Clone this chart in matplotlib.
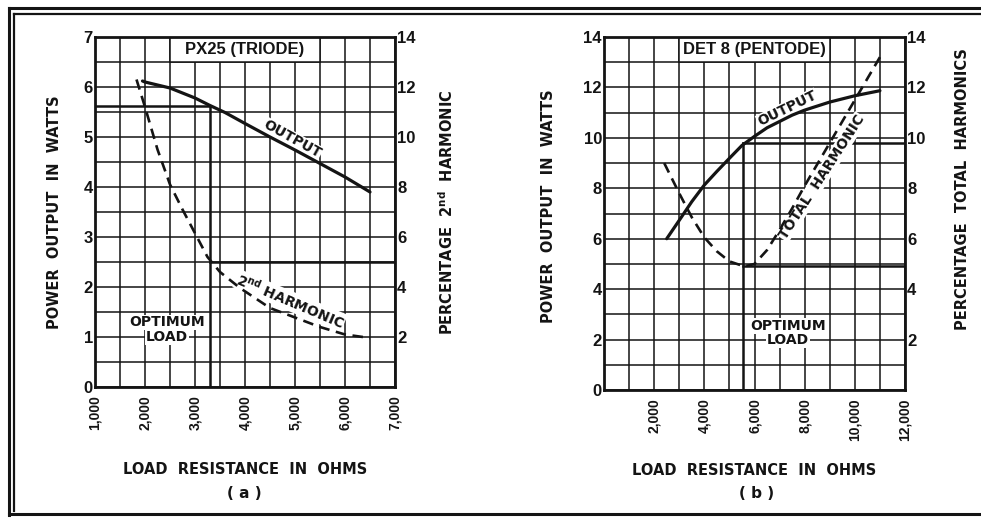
import numpy as np
import matplotlib.pyplot as plt
from matplotlib import font_manager
from matplotlib.lines import Line2D
from matplotlib.patches import Rectangle

# --- PX25 triode ---------------------------------------------------------
px25_load = [1950, 2000, 2500, 3000, 3300, 3600, 4000, 4500, 5000, 5500, 6000, 6500]
px25_output = [6.12, 6.10, 5.98, 5.78, 5.63, 5.49, 5.27, 5.0, 4.74, 4.47, 4.2, 3.9]
px25_harm_load = [1830, 2000, 2250, 2500, 2750, 3000, 3250, 3500, 3900, 4500, 5000, 5500, 6000, 6500]
px25_harm = [12.3, 11.2, 9.5, 8.1, 7.1, 6.15, 5.2, 4.6, 3.96, 3.16, 2.78, 2.4, 2.1, 1.96]
px25_opt_load = 3300
px25_opt_output = 5.62
px25_opt_harm = 5.0

# --- DET8 pentode --------------------------------------------------------
det8_load = [2500, 3000, 3500, 4000, 4500, 5000, 5500, 6000, 6500, 7000, 7500,
             8000, 9000, 10000, 11000]
det8_output = [6.0, 6.73, 7.47, 8.13, 8.67, 9.19, 9.7, 10.06, 10.4, 10.65, 10.9,
               11.1, 11.42, 11.67, 11.87]
det8_harm_load = [2400, 3000, 3500, 4000, 4500, 5000, 5600, 6000, 6500, 7000,
                  7500, 8000, 9000, 10000, 11000]
det8_harm = [9.0, 7.8, 6.85, 6.05, 5.5, 5.1, 4.9, 5.0, 5.55, 6.35, 7.2, 8.1,
             9.8, 11.5, 13.2]
det8_opt_load = 5550
det8_opt_output = 9.8
det8_opt_harm = 4.9

W, H = 981, 518
INK = '#141414'

available = {f.name for f in font_manager.fontManager.ttflist}
TITLE_FONT = 'Liberation Sans' if 'Liberation Sans' in available else 'DejaVu Sans'

plt.rcParams['font.family'] = 'DejaVu Sans'
plt.rcParams['font.weight'] = 'bold'
plt.rcParams['axes.labelweight'] = 'bold'
plt.rcParams['mathtext.fontset'] = 'dejavusans'


def px_box(x0, y_top, x1, y_bot):
    return [x0 / W, 1 - y_bot / H, (x1 - x0) / W, (y_bot - y_top) / H]


def style_axes(ax, axr, xmin, xmax, xstep, ymax, ystep):
    ax.set_xlim(xmin, xmax)
    ax.set_ylim(0, ymax)
    ax.set_xticks(np.arange(xmin, xmax + 1, xstep), minor=True)
    ax.set_yticks(np.arange(0, ymax + 0.001, ystep), minor=True)
    ax.set_axisbelow(True)
    ax.grid(which='both', color=INK, lw=1.1)
    for s in ax.spines.values():
        s.set_linewidth(2.0)
        s.set_color(INK)
    for a in (ax, axr):
        a.tick_params(which='both', length=0, colors=INK)
        for lab in a.get_yticklabels():
            lab.set_fontfamily(TITLE_FONT)
            lab.set_fontweight('bold')
            lab.set_fontsize(12)
    for lab in ax.get_xticklabels():
        lab.set_fontfamily(TITLE_FONT)
        lab.set_fontweight('bold')
        lab.set_fontsize(10)
    ax.tick_params(axis='y', pad=1.5)
    ax.tick_params(axis='x', pad=6)
    axr.tick_params(axis='y', pad=1.5)
    axr.set_ylim(0, 14)
    for s in axr.spines.values():
        s.set_visible(False)


def title_box(ax, x0, x1, y0, y1, text):
    ax.add_patch(Rectangle((x0, y0), x1 - x0, y1 - y0, facecolor='white',
                           edgecolor=INK, lw=1.1, zorder=1.5))
    ax.text((x0 + x1) / 2, (y0 + y1) / 2, text, ha='center', va='center',
            fontfamily=TITLE_FONT, fontsize=12, fontweight='bold', color=INK, zorder=2)


knock = dict(facecolor='white', edgecolor='none', pad=0.6)

fig = plt.figure(figsize=(W / 100, H / 100), dpi=100)

# ---------------------------------------------------------------- (a)
ax1 = fig.add_axes(px_box(95, 37, 395, 387))
ax1r = ax1.twinx()
ax1.set_xticks(range(1000, 7001, 1000))
ax1.set_xticklabels([f'{v:,}' for v in range(1000, 7001, 1000)], rotation=90)
ax1.set_yticks(range(0, 8))
ax1r.set_yticks(range(2, 15, 2))
style_axes(ax1, ax1r, 1000, 7000, 500, 7, 0.5)
title_box(ax1, 2500, 5500, 6.5, 7.0, 'PX25 (TRIODE)')

ax1.plot(px25_load, px25_output, color=INK, lw=2.3, solid_capstyle='round', zorder=3)
ax1r.plot(px25_harm_load, px25_harm, color=INK, lw=1.9, dashes=(4, 2.5), zorder=3)

# optimum load markers
ax1.plot([1000, px25_opt_load], [px25_opt_output] * 2, color=INK, lw=1.8, zorder=2.2)
ax1.plot([px25_opt_load] * 2, [0, px25_opt_output], color=INK, lw=1.8, zorder=2.2)
ax1r.plot([px25_opt_load, 7000], [px25_opt_harm] * 2, color=INK, lw=1.8, zorder=2.2)

ax1.text(2440, 1.29, 'OPTIMUM', ha='center', va='center', fontsize=10,
         color=INK, bbox=knock, zorder=2)
ax1.text(2440, 1.0, 'LOAD', ha='center', va='center', fontsize=10,
         color=INK, bbox=knock, zorder=2)
ax1.text(4940, 4.96, 'OUTPUT', ha='center', va='center', fontsize=10,
         rotation=-29, color=INK, bbox=knock, zorder=2)
ax1.text(4900, 1.72, r'2$^{\mathbf{nd}}$ HARMONIC', ha='center', va='center',
         fontsize=10, rotation=-23, color=INK, bbox=knock, zorder=2)

ax1.set_ylabel('POWER  OUTPUT  IN  WATTS', fontsize=10.5, color=INK)
ax1.yaxis.set_label_coords(-0.11, 0.5)
ax1r.set_ylabel(r'PERCENTAGE  2$^{\mathbf{nd}}$  HARMONIC', fontsize=10.5, color=INK)
ax1r.yaxis.set_label_coords(1.14, 0.5)
ax1.set_xlabel('LOAD  RESISTANCE  IN  OHMS', fontsize=10.5, color=INK)
ax1.xaxis.set_label_coords(0.5, -0.215)

# ---------------------------------------------------------------- (b)
ax2 = fig.add_axes(px_box(604, 37, 905, 390))
ax2r = ax2.twinx()
ax2.set_xticks(range(2000, 12001, 2000))
ax2.set_xticklabels([f'{v:,}' for v in range(2000, 12001, 2000)], rotation=90)
ax2.set_yticks(range(0, 15, 2))
ax2r.set_yticks(range(2, 15, 2))
style_axes(ax2, ax2r, 0, 12000, 1000, 14, 1)
title_box(ax2, 3000, 9000, 13.0, 14.0, 'DET 8 (PENTODE)')

ax2.plot(det8_load, det8_output, color=INK, lw=2.3, solid_capstyle='round', zorder=3)
ax2r.plot(det8_harm_load, det8_harm, color=INK, lw=1.9, dashes=(4, 2.5), zorder=3)

ax2.plot([det8_opt_load, 12000], [det8_opt_output] * 2, color=INK, lw=1.8, zorder=2.2)
ax2.plot([det8_opt_load] * 2, [0, det8_opt_output], color=INK, lw=1.8, zorder=2.2)
ax2r.plot([det8_opt_load, 12000], [det8_opt_harm] * 2, color=INK, lw=1.8, zorder=2.2)

ax2.text(7320, 2.55, 'OPTIMUM', ha='center', va='center', fontsize=10,
         color=INK, bbox=knock, zorder=2)
ax2.text(7320, 1.97, 'LOAD', ha='center', va='center', fontsize=10,
         color=INK, bbox=knock, zorder=2)
ax2.text(7320, 11.15, 'OUTPUT', ha='center', va='center', fontsize=10,
         rotation=26, color=INK, bbox=knock, zorder=2)
ax2.text(8680, 8.45, 'TOTAL  HARMONIC', ha='center', va='center', fontsize=10,
         rotation=57, color=INK, bbox=knock, zorder=2.4)

ax2.set_ylabel('POWER  OUTPUT  IN  WATTS', fontsize=10.5, color=INK)
ax2.yaxis.set_label_coords(-0.16, 0.52)
ax2r.set_ylabel('PERCENTAGE  TOTAL  HARMONICS', fontsize=10.5, color=INK)
ax2r.yaxis.set_label_coords(1.165, 0.57)
ax2.set_xlabel('LOAD  RESISTANCE  IN  OHMS', fontsize=10.5, color=INK)
ax2.xaxis.set_label_coords(0.5, -0.207)

fig.text(244 / W, 1 - 493 / H, '( a )', ha='center', va='center', fontsize=11, color=INK)
fig.text(757 / W, 1 - 493 / H, '( b )', ha='center', va='center', fontsize=11, color=INK)

# double rule round the plate
def rule(x0, y0, x1, y1, lw):
    fig.add_artist(Line2D([x0 / W, x1 / W], [1 - y0 / H, 1 - y1 / H],
                          color=INK, lw=lw, transform=fig.transFigure))

rule(9, 8, W, 8, 2.2)
rule(14, 14, W, 14, 1.6)
rule(9, 8, 9, 515, 2.2)
rule(14, 14, 14, 511, 1.6)
rule(9, 514, W, 514, 2.2)

fig.savefig('out.png', dpi=100)
